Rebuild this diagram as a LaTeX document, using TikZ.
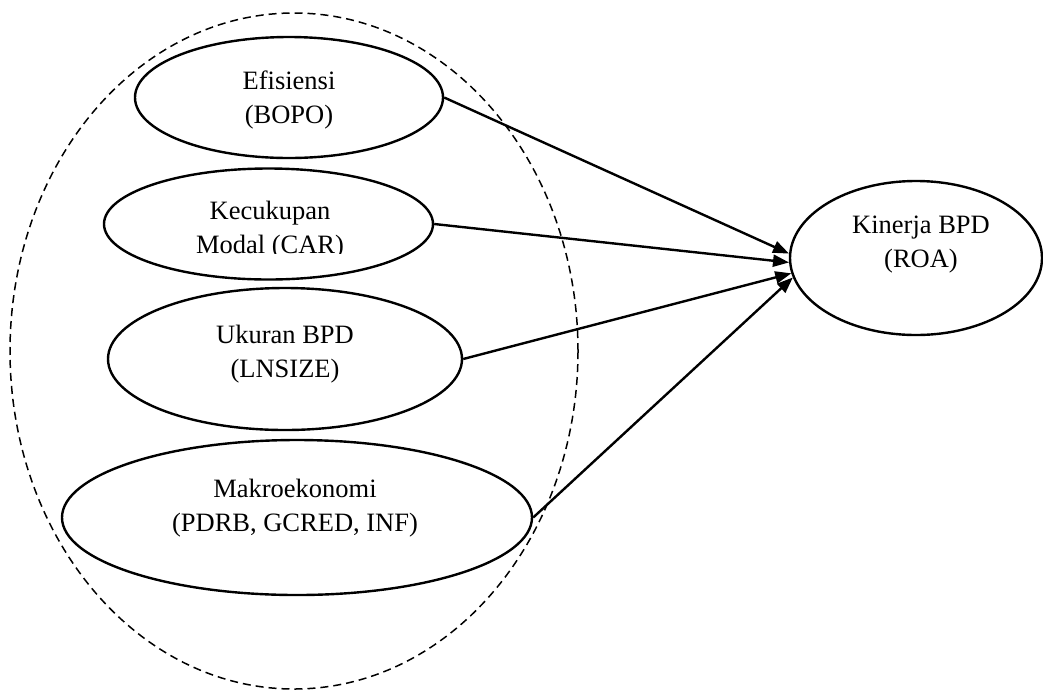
\documentclass[tikz,border=0pt]{standalone}
\usepackage{fontspec}
\setmainfont{Liberation Serif}
\usetikzlibrary{shapes.geometric,arrows.meta}
\begin{document}
\begin{tikzpicture}[x=1pt,y=-1pt,
  oval/.style={draw=black,ellipse,line width=2.4pt,inner sep=0pt},
  grp/.style={draw=black,ellipse,line width=1.5pt,dash pattern=on 8pt off 5pt,inner sep=0pt},
  lbl/.style={align=center,inner sep=0pt,font=\fontsize{26.5}{34}\selectfont},
  conn/.style={line width=2.4pt,-{Triangle[length=16pt,width=12pt]}}]
\useasboundingbox (0,0) rectangle (1043,697);
\node[grp,minimum width=568pt,minimum height=676pt] (group) at (294,351) {};
\node[oval,minimum width=308pt,minimum height=121pt] (e1) at (289,97.5) {};
\node[oval,minimum width=329pt,minimum height=111pt] (e2) at (268.5,224) {};
\node[oval,minimum width=354pt,minimum height=142pt] (e3) at (285,359) {};
\node[oval,minimum width=470pt,minimum height=155pt] (e4) at (297,517.5) {};
\node[oval,minimum width=252pt,minimum height=154pt] (kin) at (916,258) {};
\node[lbl] (t1) at (289,100) {Efisiensi\\(BOPO)};
\begin{scope}
  \clip (150,190) rectangle (390,253.5);
  \node[lbl] (t2) at (270,230) {Kecukupan\\Modal (CAR)};
\end{scope}
\node[lbl] (t3) at (285,354.5) {Ukuran BPD\\(LNSIZE)};
\node[lbl] (t4) at (295,508.5) {Makroekonomi\\(PDRB, GCRED, INF)};
\node[lbl] (t5) at (921,245) {Kinerja BPD\\(ROA)};
\draw[conn] (e1.east) -- (kin.178);
\draw[conn] (e2.east) -- (kin.182);
\draw[conn] (e3.east) -- (kin.187);
\draw[conn] (e4.east) -- (kin.189);
\end{tikzpicture}
\end{document}
